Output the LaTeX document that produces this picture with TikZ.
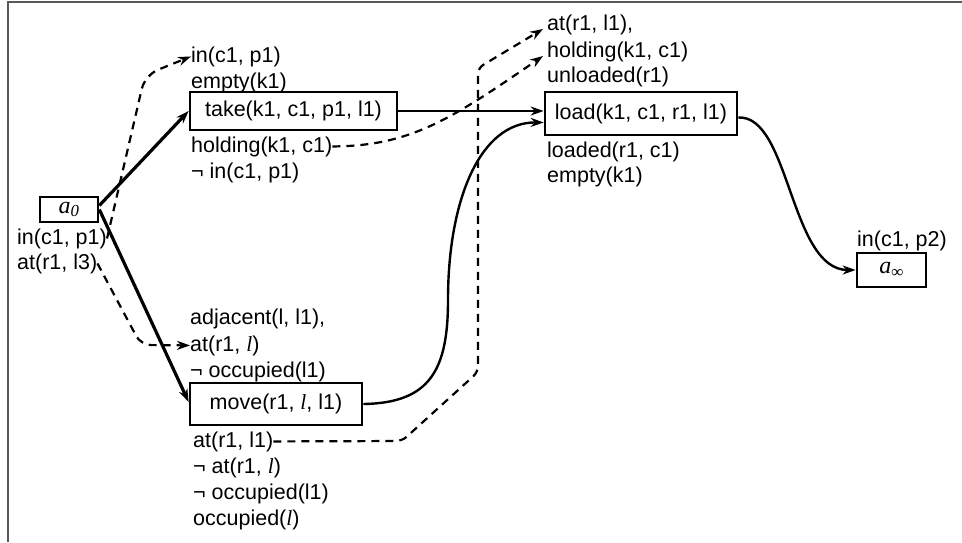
\documentclass[tikz,border=0pt]{standalone}
\usepackage{fontspec}
\setmainfont{Liberation Sans}
\newfontfamily\tms{Liberation Serif}
\usetikzlibrary{arrows.meta,calc}
% italic location variable
\newcommand{\itl}{{\tms\itshape l}}
% italic action symbol with subscript
\newcommand{\actsym}[1]{{\tms\itshape\fontsize{24pt}{26pt}\selectfont a\textsubscript{#1}}}

\begin{document}
\begin{tikzpicture}[x=1pt,y=-1pt,
  every node/.style={font=\fontsize{21.5pt}{26pt}\selectfont},
  lbl/.style={anchor=base west, inner sep=0pt},
  actbox/.style={draw, line width=2.7pt, inner sep=0pt},
  arrowhd/.style={-{Stealth[length=13pt,width=9pt]}},
  causal/.style={arrowhd, line width=2.4pt},
  dep/.style={arrowhd, line width=2.2pt, dash pattern=on 8pt off 6pt}]

\useasboundingbox (0,0) rectangle (962,542);
% frame
\draw[line width=2pt, black!65] (7.5,542) -- (7.5,1.5) -- (962,1.5);

% actions
\node[actbox, minimum width=58pt, minimum height=25pt] (a0) at (69,209.5) {\actsym{0}};
\node[actbox, minimum width=207pt, minimum height=38pt] (take) at (293.5,111) {take(k1, c1, p1, l1)\hspace{6pt}};
\node[actbox, minimum width=192pt, minimum height=43pt] (load) at (641,113.5) {load(k1, c1, r1, l1)};
\node[actbox, minimum width=172pt, minimum height=42pt] (move) at (276,404) {move(r1, \itl, l1)};
\node[actbox, minimum width=69pt, minimum height=34pt] (ainf) at (891.5,270) {\actsym{∞}};

% effects of a0
\node[lbl] (inA) at (17,244) {in(c1, p1)};
\node[lbl] (atA) at (17,269) {at(r1, l3)};
% take
\node[lbl] (takeIn) at (191,62) {in(c1, p1)};
\node[lbl] (takeEmpty) at (191,88) {empty(k1)};
\node[lbl] (takeHold) at (191,152) {holding(k1, c1)};
\node[lbl] (takeNotIn) at (191,178) {¬ in(c1, p1)};
% load
\node[lbl] (loadAt) at (547,30) {at(r1, l1),};
\node[lbl] (loadHold) at (547,57) {holding(k1, c1)};
\node[lbl] (loadUnl) at (547,82) {unloaded(r1)};
\node[lbl] (loadLd) at (547,157) {loaded(r1, c1)};
\node[lbl] (loadEmpty) at (547,182) {empty(k1)};
% move
\node[lbl] (moveAdj) at (190,324) {adjacent(l, l1),};
\node[lbl] (moveAt) at (190,351) {at(r1, \itl)};
\node[lbl] (moveNotOcc) at (190,377) {¬ occupied(l1)};
\node[lbl] (moveAtL1) at (193,447) {at(r1, l1)};
\node[lbl] (moveNotAt) at (193,473) {¬ at(r1, \itl)};
\node[lbl] (moveNotOcc2) at (193,499) {¬ occupied(l1)};
\node[lbl] (moveOcc) at (193,525) {occupied(\itl)};
% goal
\node[lbl] (goalIn) at (857,246) {in(c1, p2)};

% ordering links
\draw[causal, line width=3.2pt] ([yshift=4pt]a0.east) -- (take.west);
\draw[causal, line width=3.2pt] (a0.east) -- ([yshift=2pt]move.west);
\draw[causal] (take.east) -- (take.east -| load.west);
\draw[causal] (move.east) .. controls (430,403) and (448,370) .. (448,300)
  .. controls (448,200) and (480,122) .. ([yshift=-9pt]load.west);
\draw[causal] ([yshift=-4pt]load.east) .. controls (790,115) and (790,270) .. (ainf.west);

% causal links
\draw[dep, rounded corners=14pt] (inA.east) -- (145,75) -- (takeIn.west);
\draw[dep, rounded corners=10pt] (atA.east) -- (141,345) -- (moveAt.west);
\draw[dep] (takeHold.east) .. controls (410,146) and (450,120) .. ($(loadHold.base west)+(-4,-1)$);
\draw[dep, rounded corners=6pt] (moveAtL1.east) -- (402,441) -- (478,372) -- (478,68)
  -- ($(loadAt.base west)+(-4,-1)$);
\end{tikzpicture}
\end{document}
